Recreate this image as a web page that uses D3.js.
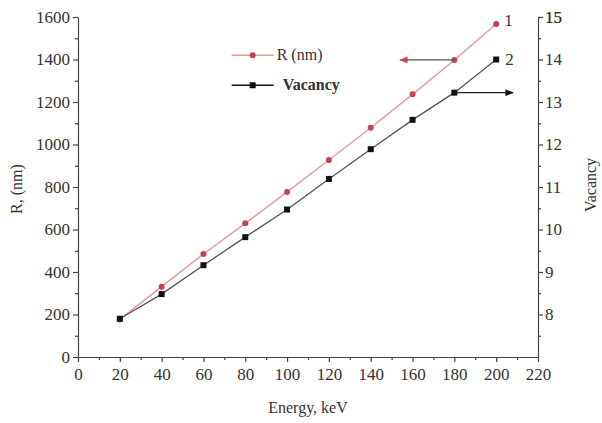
<!DOCTYPE html>
<html lang="en">
<head>
    <meta charset="utf-8">
    <title>R and Vacancy vs Energy</title>
    <style>
        body { margin: 0; background: #fff; }
        svg text { font-family: "Liberation Serif", "DejaVu Serif", serif; fill: #333; }
        .axis path, .axis line { stroke: #444; stroke-width: 1.2px; }
        .axis text { font-size: 17px; }
    </style>
    <script src="https://d3js.org/d3.v7.min.js"></script>
</head>
<body>
<div id="chart"></div>
<script>
    // data
    const energy = [20, 40, 60, 80, 100, 120, 140, 160, 180, 200];
    const rRange = [177, 331, 485, 629, 777, 927, 1079, 1236, 1398, 1567];
    const vacancy = [7.9, 8.48, 9.16, 9.82, 10.47, 11.19, 11.89, 12.58, 13.22, 14.0];

    const xTicks = d3.range(0, 221, 20);
    const leftTicks = d3.range(0, 1601, 200);
    const rightTicks = d3.range(8, 16, 1);

    const seriesNames = ["R (nm)", "Vacancy"];
    const curveLabels = ["1", "2"];

    const margin = {top: 17, right: 64, bottom: 66, left: 78},
        width = 602 - margin.left - margin.right,
        height = 423 - margin.top - margin.bottom;

    const svg = d3.select("#chart")
        .append("svg")
        .attr("width", 602)
        .attr("height", 423)
        .append("g")
        .attr("transform", `translate(${margin.left},${margin.top})`);

    const x = d3.scaleLinear().domain([0, 220]).range([0, width]);
    const yL = d3.scaleLinear().domain([0, 1600]).range([height, 0]);
    const yR = d3.scaleLinear().domain([7, 15]).range([height, 0]);

    const redLine = "#e59a9a", redDot = "#c8404e", blk = "#111";

    // minor ticks
    svg.append("g").attr("class", "axis")
        .attr("transform", `translate(0,${height})`)
        .call(d3.axisBottom(x).tickValues(d3.range(10, 220, 20)).tickSize(3).tickFormat(""))
        .select(".domain").remove();
    svg.append("g").attr("class", "axis")
        .call(d3.axisLeft(yL).tickValues(d3.range(100, 1600, 200)).tickSize(3).tickFormat(""))
        .select(".domain").remove();
    svg.append("g").attr("class", "axis")
        .attr("transform", `translate(${width},0)`)
        .call(d3.axisRight(yR).tickValues(d3.range(7.5, 15, 1)).tickSize(3).tickFormat(""))
        .select(".domain").remove();

    // major axes
    svg.append("g").attr("class", "axis")
        .attr("transform", `translate(0,${height})`)
        .call(d3.axisBottom(x).tickValues(xTicks).tickSize(5).tickSizeOuter(0).tickPadding(6));
    svg.append("g").attr("class", "axis")
        .call(d3.axisLeft(yL).tickValues(leftTicks).tickFormat(d3.format("d"))
            .tickSize(5).tickSizeOuter(0).tickPadding(3));
    svg.append("g").attr("class", "axis")
        .attr("transform", `translate(${width},0)`)
        .call(d3.axisRight(yR).tickValues(rightTicks.concat([15])).tickSize(5).tickSizeOuter(0).tickPadding(2));

    // axis titles
    svg.append("text")
        .attr("x", width / 2).attr("y", height + 56)
        .attr("text-anchor", "middle").attr("font-size", "16px")
        .text("Energy, keV");
    svg.append("text")
        .attr("transform", "rotate(-90)")
        .attr("x", -172).attr("y", -56)
        .attr("text-anchor", "middle").attr("font-size", "16px")
        .text("R, (nm)");
    svg.append("text")
        .attr("transform", "rotate(-90)")
        .attr("x", -168).attr("y", width + 58)
        .attr("text-anchor", "middle").attr("font-size", "16px")
        .text("Vacancy");

    const rData = energy.map((e, i) => ({e, v: rRange[i]}));
    const vData = energy.map((e, i) => ({e, v: vacancy[i]}));

    svg.append("path").datum(rData)
        .attr("fill", "none").attr("stroke", redLine).attr("stroke-width", 1.4)
        .attr("d", d3.line().x(d => x(d.e)).y(d => yL(d.v)));
    svg.append("path").datum(vData)
        .attr("fill", "none").attr("stroke", "#555").attr("stroke-width", 1.3)
        .attr("d", d3.line().x(d => x(d.e)).y(d => yR(d.v)));

    svg.selectAll("circle.r").data(rData).join("circle")
        .attr("class", "r")
        .attr("cx", d => x(d.e)).attr("cy", d => yL(d.v)).attr("r", 3)
        .attr("fill", redDot);
    svg.selectAll("rect.v").data(vData).join("rect")
        .attr("class", "v")
        .attr("x", d => x(d.e) - 3).attr("y", d => yR(d.v) - 3)
        .attr("width", 6).attr("height", 6)
        .attr("fill", blk);

    // arrows pointing to the axis each curve belongs to
    const defs = svg.append("defs");
    [["headR", redDot], ["headV", blk]].forEach(([id, c]) => {
        defs.append("marker").attr("id", id)
            .attr("viewBox", "0 0 10 10").attr("refX", 9).attr("refY", 5)
            .attr("markerWidth", 7).attr("markerHeight", 7).attr("orient", "auto")
            .append("path").attr("d", "M0,1L10,5L0,9Z").attr("fill", c);
    });
    svg.append("line")
        .attr("x1", x(energy[8])).attr("y1", yL(rRange[8]))
        .attr("x2", x(154)).attr("y2", yL(rRange[8]))
        .attr("stroke", "#555").attr("stroke-width", 1.2)
        .attr("marker-end", "url(#headR)");
    svg.append("line")
        .attr("x1", x(energy[8])).attr("y1", yR(vacancy[8]))
        .attr("x2", x(208)).attr("y2", yR(vacancy[8]))
        .attr("stroke", "#222").attr("stroke-width", 1.2)
        .attr("marker-end", "url(#headV)");

    // curve numbers
    svg.append("text").attr("x", x(energy[9]) + 8).attr("y", yL(rRange[9]) + 2)
        .attr("font-size", "17px").text(curveLabels[0]);
    svg.append("text").attr("x", x(energy[9]) + 9).attr("y", yR(vacancy[9]) + 5)
        .attr("font-size", "17px").text(curveLabels[1]);

    // legend
    const legend = svg.append("g").attr("transform", `translate(${x(73.5)},${yL(1420)})`);
    seriesNames.forEach((name, i) => {
        const g = legend.append("g").attr("transform", `translate(0,${i * 30})`);
        g.append("line").attr("x1", 0).attr("x2", 42)
            .attr("stroke", i ? blk : redLine).attr("stroke-width", 1.4);
        if (i) g.append("rect").attr("x", 18).attr("y", -3).attr("width", 6).attr("height", 6).attr("fill", blk);
        else g.append("circle").attr("cx", 21).attr("r", 3).attr("fill", redDot);
        g.append("text").attr("x", i ? 51 : 45).attr("y", 5)
            .attr("font-size", "16px")
            .attr("font-weight", i ? "bold" : "normal")
            .text(name);
    });
</script>
</body>
</html>
